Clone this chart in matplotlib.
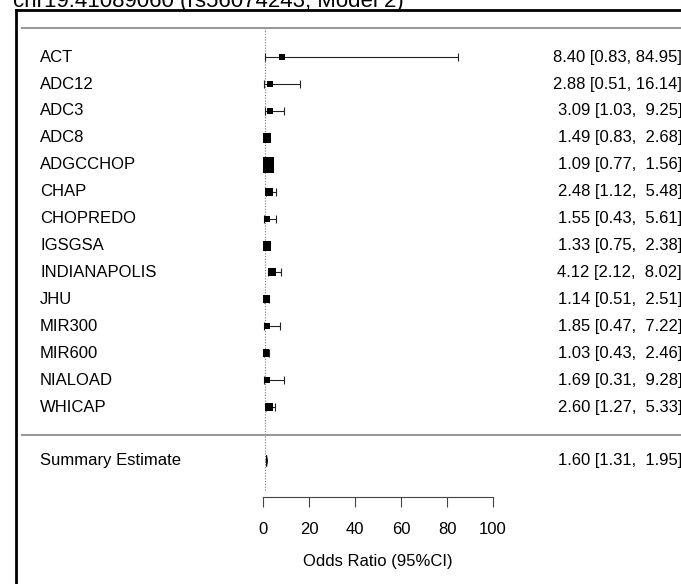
import numpy as np
import matplotlib
matplotlib.use("Agg")
import matplotlib.pyplot as plt
from matplotlib import transforms
from matplotlib.lines import Line2D

plt.rcParams['font.family'] = ['Liberation Sans', 'DejaVu Sans']

# 연구별 오즈비와 95% 신뢰구간
studies = ['ACT', 'ADC12', 'ADC3', 'ADC8', 'ADGCCHOP', 'CHAP', 'CHOPREDO', 'IGSGSA',
           'INDIANAPOLIS', 'JHU', 'MIR300', 'MIR600', 'NIALOAD', 'WHICAP']
odds = [8.40, 2.88, 3.09, 1.49, 1.09, 2.48, 1.55, 1.33, 4.12, 1.14, 1.85, 1.03, 1.69, 2.60]
lower = [0.83, 0.51, 1.03, 0.83, 0.77, 1.12, 0.43, 0.75, 2.12, 0.51, 0.47, 0.43, 0.31, 1.27]
upper = [84.95, 16.14, 9.25, 2.68, 1.56, 5.48, 5.61, 2.38, 8.02, 2.51, 7.22, 2.46, 9.28, 5.33]

summary_or = 1.60
summary_lo = 1.31
summary_hi = 1.95

title = 'chr19:41089060 (rs56074243, Model 2)'

W, H = 681, 584
fs = 12
fig = plt.figure(figsize=(W / 100, H / 100), dpi=100)

# 그림 영역 (x: 0~100 오즈비, y: 행 번호)
ax = fig.add_axes([263 / W, 1 - 497 / H, 230 / W, (497 - 28) / H])
n = len(studies)
rows = np.arange(n)
summary_row = n + 1
ax.set_xlim(0, 100)
ax.set_ylim(16.34, -1.08)

# 가중치 (역분산) -> 사각형 크기
odds = np.array(odds)
lower = np.array(lower)
upper = np.array(upper)
se = (np.log(upper) - np.log(lower)) / (2 * 1.96)
w = 1 / se ** 2
psize = 0.5 + (w - w.min()) / (w.max() - w.min())

ax.axvline(1, color='#777777', lw=0.8, ls=(0, (1, 1.5)), ymin=0.015, ymax=1)

ax.errorbar(odds, rows, xerr=[odds - lower, upper - odds], fmt='none',
            ecolor='#222222', elinewidth=0.8, capsize=3, capthick=0.8)
for i in range(n):
    ax.plot(odds[i], rows[i], marker='s', color='black', markersize=psize[i] * 8, mew=0)

# 요약 추정치 다이아몬드
h = 0.22
ax.fill([summary_lo, summary_or, summary_hi, summary_or],
        [summary_row, summary_row - h, summary_row, summary_row + h],
        color='black', lw=0.6, edgecolor='black')

for s in ['top', 'right', 'left']:
    ax.spines[s].set_visible(False)
ax.spines['bottom'].set_color('#444444')
ax.spines['bottom'].set_linewidth(0.8)
ax.set_yticks([])
ax.set_xticks(np.arange(0, 101, 20))
ax.tick_params(axis='x', direction='out', length=7, width=0.8, color='#444444',
               labelsize=fs, pad=11)
ax.set_xlabel('Odds Ratio (95%CI)', fontsize=fs, labelpad=12)
ax.patch.set_visible(False)

# 왼쪽 연구 이름, 오른쪽 수치
trans = transforms.blended_transform_factory(fig.transFigure, ax.transData)
for i, name in enumerate(studies):
    ax.text(40 / W, rows[i], name, transform=trans, ha='left', va='center', fontsize=fs)
    txt = '%.2f [%.2f, %5.2f]' % (odds[i], lower[i], upper[i])
    ax.text(682 / W, rows[i], txt, transform=trans, ha='right', va='center', fontsize=fs)
ax.text(40 / W, summary_row, 'Summary Estimate', transform=trans, ha='left', va='center', fontsize=fs)
ax.text(682 / W, summary_row, '%.2f [%.2f, %5.2f]' % (summary_or, summary_lo, summary_hi),
        transform=trans, ha='right', va='center', fontsize=fs)

# 구분선
for yy in [-1.08, n + 0.04]:
    ax.plot([22 / W, 1], [yy, yy], transform=trans, color='#999999', lw=1.5, clip_on=False)

# 바깥 테두리와 잘린 제목
fig.add_artist(Line2D([16 / W, 16 / W], [0, 1 - 10 / H], color='black', lw=2))
fig.add_artist(Line2D([16 / W, 1], [1 - 10 / H, 1 - 10 / H], color='black', lw=2))
fig.text(13 / W, 1 - 7 / H, title, ha='left', va='baseline', fontsize=16)

fig.savefig('out.png', dpi=100)
